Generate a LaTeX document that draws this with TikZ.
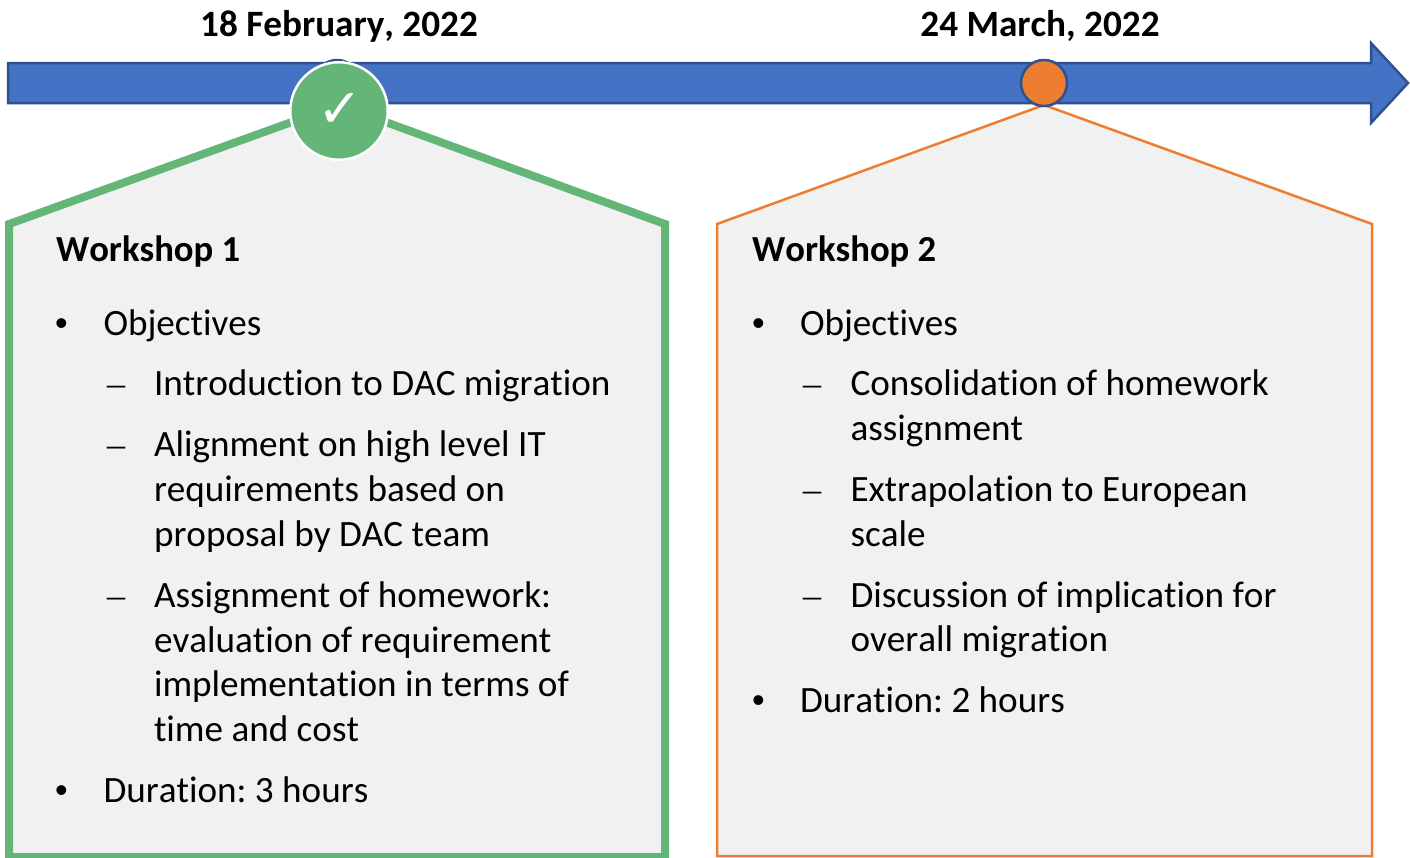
\documentclass[tikz,border=0pt]{standalone}
\usepackage{fontspec}
\setmainfont[Ligatures=NoCommon,Kerning=Off]{Carlito}
\newfontfamily\symfont{DejaVu Sans}
\newfontfamily\bulletfont{Liberation Sans}
\newfontfamily\dashfont{Liberation Serif}
\definecolor{arrowfill}{HTML}{4472C4}
\definecolor{arrowline}{HTML}{2F528F}
\definecolor{wsgreen}{HTML}{64B578}
\definecolor{wsorange}{HTML}{ED7D31}
\definecolor{panel}{HTML}{F1F1F1}
\tikzset{
  txt/.style={anchor=base west,inner sep=0pt,outer sep=0pt,text=black,font=\frenchspacing\fontsize{37.15}{37}\selectfont},
  bul/.style={anchor=base west,inner sep=0pt,outer sep=0pt,text=black,font=\bulletfont\fontsize{36}{36}\selectfont},
  dsh/.style={anchor=base west,inner sep=0pt,outer sep=0pt,text=black,font=\dashfont\fontsize{36}{36}\selectfont},
  head/.style={txt,font=\frenchspacing\fontsize{36.7}{37}\selectfont\bfseries},
  datelabel/.style={anchor=base,inner sep=0pt,outer sep=0pt,text=black,font=\frenchspacing\fontsize{37.2}{37}\selectfont\bfseries},
  timeline/.style={draw=arrowline,fill=arrowfill,line width=2.5pt,line join=miter},
}
\begin{document}
\begin{tikzpicture}[x=1pt,y=-1pt]
\useasboundingbox (0,0) rectangle (1410,857);
% timeline
\draw[timeline] (8,63) -- (1371,63) -- (1371,43) -- (1408,83) -- (1371,123) -- (1371,103) -- (8,103) -- cycle;
\draw[timeline] (337,83) circle[radius=23];
% panels
\draw[draw=wsgreen,fill=panel,line width=8pt,line join=miter] (339,105) -- (665,224) -- (665,857) -- (9,857) -- (9,224) -- cycle;
\draw[draw=wsorange,fill=panel,line width=2.5pt,line join=miter] (1044,105) -- (1372,224) -- (1372,856) -- (717,856) -- (717,224) -- cycle;
% markers
\node[circle,draw=white,fill=wsgreen,line width=2.5pt,minimum size=97.5pt,inner sep=0pt] (done) at (339,111) {};
\node[text=white,inner sep=0pt,font=\symfont\fontsize{54}{54}\selectfont] (tick) at (340,110.5) {✓};
\node[circle,draw=arrowline,fill=wsorange,line width=2.5pt,minimum size=46pt,inner sep=0pt] (next) at (1044,83) {};
% dates
\node[datelabel] (d1) at (339,36) {18 February, 2022};
\node[datelabel] (d2) at (1040,36) {24 March, 2022};
% workshop 1
\node[head] (w1) at (56,261) {Workshop 1};
\node[bul] (b1) at (55,335) {•};
\node[txt] (a1) at (103.5,335) {Objectives};
\node[dsh] (s1) at (107,395) {–};
\node[txt] (a2) at (154,395) {Introduction to DAC migration};
\node[dsh] (s2) at (107,456) {–};
\node[txt] (a3) at (154,456) {Alignment on high level IT};
\node[txt] (a4) at (154,501) {requirements based on};
\node[txt] (a5) at (154,546) {proposal by DAC team};
\node[dsh] (s3) at (107,607) {–};
\node[txt] (a6) at (154,607) {Assignment of homework:};
\node[txt] (a7) at (154,652) {evaluation of requirement};
\node[txt] (a8) at (154,696) {implementation in terms of};
\node[txt] (a9) at (154,741) {time and cost};
\node[bul] (b2) at (55,802) {•};
\node[txt] (a10) at (103.5,802) {Duration: 3 hours};
% workshop 2
\node[head] (w2) at (752,261) {Workshop 2};
\node[bul] (b3) at (752,335) {•};
\node[txt] (c1) at (800,335) {Objectives};
\node[dsh] (s4) at (803,395) {–};
\node[txt] (c2) at (850.5,395) {Consolidation of homework};
\node[txt] (c3) at (850.5,440) {assignment};
\node[dsh] (s5) at (803,501) {–};
\node[txt] (c4) at (850.5,501) {Extrapolation to European};
\node[txt] (c5) at (850.5,546) {scale};
\node[dsh] (s6) at (803,607) {–};
\node[txt] (c6) at (850.5,607) {Discussion of implication for};
\node[txt] (c7) at (850.5,651) {overall migration};
\node[bul] (b4) at (752,712) {•};
\node[txt] (c8) at (800,712) {Duration: 2 hours};
\end{tikzpicture}
\end{document}
